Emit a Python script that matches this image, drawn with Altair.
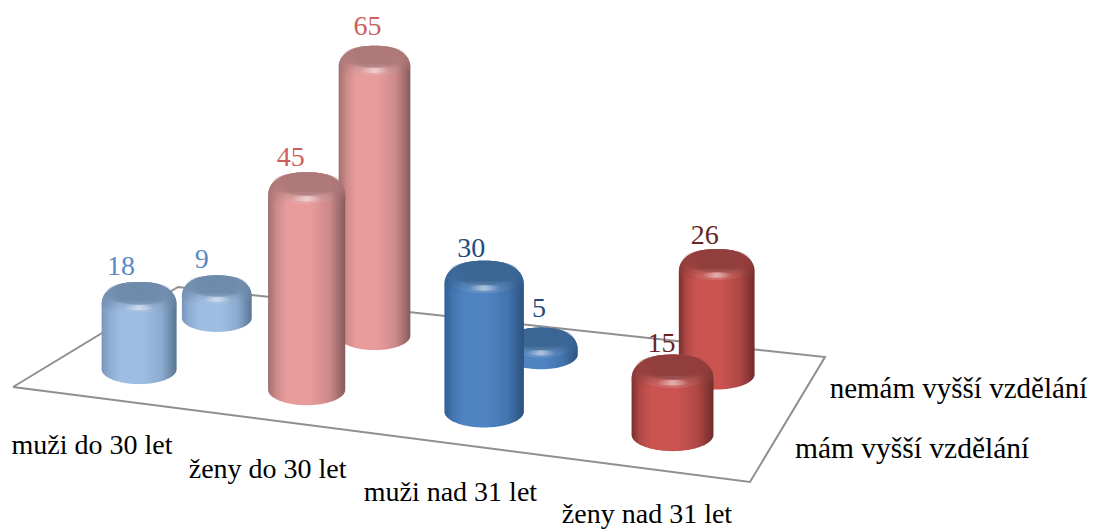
import numpy as np
import pandas as pd
import altair as alt

# ---- data ----
CATEGORIES = ["muži do 30 let", "ženy do 30 let", "muži nad 31 let", "ženy nad 31 let"]
SERIES = ["mám vyšší vzdělání", "nemám vyšší vzdělání"]
VALUES_FRONT = [18, 45, 30, 15]   # mám vyšší vzdělání
VALUES_BACK = [9, 65, 5, 26]      # nemám vyšší vzdělání

# ---- layout of the pseudo-3D floor (projection parameters) ----
W, H = 1081, 521
FL, FR, BR, BL = (13, 387), (750, 482), (825, 357), (178, 287)
FLOOR_U = [0, 1, 1, 0, 0]
FLOOR_V = [0, 0, 1, 1, 0]
ROW_V = {"front": 0.25, "back": 0.75}
WIDTH_K = 76.8
HEIGHT_PER_UNIT = 4.6
VALUE_FLOOR = 2.3
FONT = "Liberation Serif"

CAT_LABEL_U = [0.207, 0.445, 0.677, 0.911]
CAT_LABEL_V = [-0.325, -0.322, -0.31, -0.285]
SER_LABEL_U = [1.165, 1.191]
SER_LABEL_V = [0.355, 0.853]
SER_LABEL_SIZE = [29.5, 29]
# hand placement of value labels relative to the top of each cylinder
DX = {"front": [-18, -16, -13, -11], "back": [-15, -7, -2, -12]}
DY = {"front": [-15, -14, -12, -11], "back": [-15, -19, -19, -13]}

PALETTE = [
    dict(edgeL="#7896ba", mid="#8cabd0", light="#9dbde3", edgeR="#587592", cap="#6f8bab", text="#5a8ac6"),
    dict(edgeL="#a06e6e", mid="#cc8888", light="#e79c9b", edgeR="#875b5b", cap="#ad7878", text="#cf5f5c"),
    dict(edgeL="#2f5f95", mid="#4274ae", light="#4f83c1", edgeR="#2b527f", cap="#3a6694", text="#234b7c"),
    dict(edgeL="#7a2f2e", mid="#b04846", light="#cb5451", edgeR="#6f2b2a", cap="#913e3c", text="#6a2523"),
]

# ---- projection ----
def homography():
    (x0, y0), (x1, y1), (x2, y2), (x3, y3) = FL, FR, BR, BL
    dx1, dx2, sx = x1 - x2, x3 - x2, x0 - x1 + x2 - x3
    dy1, dy2, sy = y1 - y2, y3 - y2, y0 - y1 + y2 - y3
    den = dx1 * dy2 - dx2 * dy1
    g = (sx * dy2 - dx2 * sy) / den
    h = (dx1 * sy - sx * dy1) / den
    return (x1 - x0 + g * x1, x3 - x0 + h * x3, x0,
            y1 - y0 + g * y1, y3 - y0 + h * y3, y0, g, h)

A, B, C, D, E, F, G, K = homography()

def project(u, v):
    w = G * u + K * v + 1
    return (A * u + B * v + C) / w, (D * u + E * v + F) / w, w

XS = alt.Scale(domain=[8, 8 + W], range=[0, W], nice=False, zero=False)
YS = alt.Scale(domain=[8, 8 + H], range=[0, H], nice=False, zero=False)

def X(name="x"):
    return alt.X(f"{name}:Q", scale=XS, axis=None)

def Y(name="y"):
    return alt.Y(f"{name}:Q", scale=YS, axis=None)

def band(xs, top, bottom, fill):
    df = pd.DataFrame({"x": xs, "y": top, "y2": bottom})
    return alt.Chart(df).mark_area(fill=fill, orient="vertical", stroke=None).encode(
        x=X(), y=Y(), y2=alt.Y2("y2:Q"))

def hgrad(p):
    return {"gradient": "linear", "x1": 0, "y1": 0, "x2": 1, "y2": 0, "stops": [
        {"offset": 0, "color": p["edgeL"]},
        {"offset": 0.1, "color": p["mid"]},
        {"offset": 0.24, "color": p["light"]},
        {"offset": 0.55, "color": p["light"]},
        {"offset": 0.8, "color": p["mid"]},
        {"offset": 1, "color": p["edgeR"]}]}

def rgba(hexc, alpha):
    r, g, b = int(hexc[1:3], 16), int(hexc[3:5], 16), int(hexc[5:7], 16)
    return f"rgba({r},{g},{b},{alpha})"

def radial(cy, stops):
    return {"gradient": "radial", "x1": 0.5, "y1": cy, "r1": 0, "x2": 0.5, "y2": cy, "r2": 0.5,
            "stops": [{"offset": o, "color": c} for o, c in stops]}

def cylinder(u, v, value, p):
    cx, cy, den = project(u, v)
    w = WIDTH_K / den
    a, b = w / 2, 0.2 * w
    hgt = HEIGHT_PER_UNIT * (value - VALUE_FLOOR) * w / 75
    ctop = cy - hgt
    t = np.sin(np.linspace(-np.pi / 2, np.pi / 2, 81))
    xs = cx + a * t
    arc = np.sqrt(1 - t ** 2)
    low = cy + b * arc
    shoulder = 0.55 * b
    sil = ctop + shoulder - (b + shoulder) * (1 - np.abs(t) ** 2.3) ** (1 / 2.3)
    layers = [band(xs, sil, low, hgrad(p))]
    # bevel shading on the shoulder
    rim = ctop + shoulder + 0.55 * b * arc
    layers.append(band(xs, sil, np.maximum(rim, sil), {
        "gradient": "linear", "x1": 0, "y1": 0, "x2": 0, "y2": 1, "stops": [
            {"offset": 0, "color": rgba(p["cap"], 0.95)},
            {"offset": 0.5, "color": rgba(p["cap"], 0.7)},
            {"offset": 1, "color": rgba(p["cap"], 0)}]}))
    # dark centre of the cap
    ia, ib = 0.46 * w, 0.15 * w
    iy = ctop - 0.25 * b
    root = ib * arc
    layers.append(band(cx + ia * t, iy - root, iy + root, radial(0.5, [
        (0, rgba(p["cap"], 1)), (0.5, rgba(p["cap"], 0.95)), (1, rgba(p["cap"], 0))])))
    # soft light arc and highlight on the front of the bevel
    layers.append(band(xs, ctop + 0.3 * b * arc, ctop + 1.05 * b * arc, radial(0.8, [
        (0, "rgba(255,255,255,0.22)"), (0.6, "rgba(255,255,255,0.1)"), (1, "rgba(255,255,255,0)")])))
    ha, hb = 0.2 * w, 0.035 * w
    hy = ctop + 0.72 * b
    root = hb * arc
    layers.append(band(cx + ha * t, hy - root, hy + root, radial(0.5, [
        (0, "rgba(255,255,255,0.5)"), (1, "rgba(255,255,255,0)")])))
    return layers, cx, sil.min()

def text_layer(txt, x, y, color, size):
    df = pd.DataFrame({"x": [x], "y": [y], "t": [txt]})
    return alt.Chart(df).mark_text(font=FONT, fontSize=size, color=color, align="center",
                                   baseline="middle").encode(x=X(), y=Y(), text="t:N")

# ---- floor ----
fx, fy, _ = project(np.array(FLOOR_U, float), np.array(FLOOR_V, float))
floor = alt.Chart(pd.DataFrame({"x": fx, "y": fy, "o": range(5)})).mark_line(
    color="#8f8f8f", strokeWidth=2).encode(x=X(), y=Y(), order="o:Q")

layers = [floor]
labels = []
for row, vals in (("back", VALUES_BACK), ("front", VALUES_FRONT)):
    for i, val in enumerate(vals):
        cyl, cx, top = cylinder((i + 0.5) / 4, ROW_V[row], val, PALETTE[i])
        layers += cyl
        labels.append(text_layer(str(val), cx + DX[row][i], top + DY[row][i], PALETTE[i]["text"], 28))

for i, c in enumerate(CATEGORIES):
    x, y, _ = project(CAT_LABEL_U[i], CAT_LABEL_V[i])
    labels.append(text_layer(c, x, y, "#000000", 28))
for i, s in enumerate(SERIES):
    x, y, _ = project(SER_LABEL_U[i], SER_LABEL_V[i])
    labels.append(text_layer(s, x, y, "#000000", SER_LABEL_SIZE[i]))

chart = alt.layer(*layers, *labels).properties(
    width=W, height=H, padding=0, background="white",
    autosize=alt.AutoSizeParams(type="none"),
).configure_view(stroke=None)

chart.save("out.html", embed_options={"renderer": "svg", "actions": False})
